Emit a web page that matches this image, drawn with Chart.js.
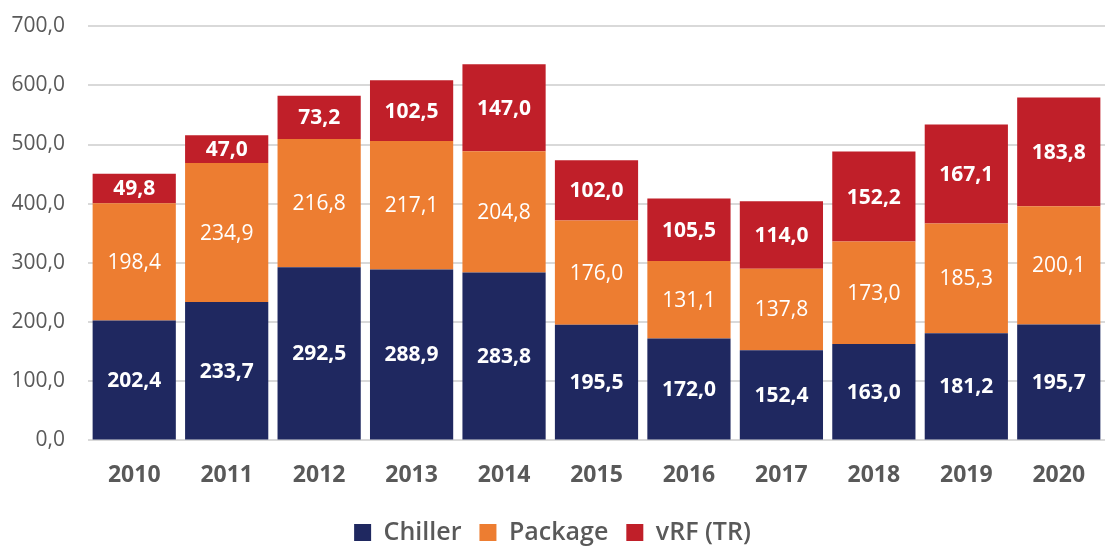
<!DOCTYPE html>
<html>
<head>
<meta charset="utf-8">
<script src="https://cdn.jsdelivr.net/npm/chart.js@4/dist/chart.umd.min.js"></script>
<style>
  html, body { margin: 0; padding: 0; background: #fff; }
  #wrap { width: 1111px; height: 547px; }
</style>
</head>
<body>
<div id="wrap"><canvas id="chart" width="1111" height="547"></canvas></div>
<script>
const years = ["2010","2011","2012","2013","2014","2015","2016","2017","2018","2019","2020"];
const chiller = [202.4, 233.7, 292.5, 288.9, 283.8, 195.5, 172.0, 152.4, 163.0, 181.2, 195.7];
const packageVals = [198.4, 234.9, 216.8, 217.1, 204.8, 176.0, 131.1, 137.8, 173.0, 185.3, 200.1];
const vrf = [49.8, 47.0, 73.2, 102.5, 147.0, 102.0, 105.5, 114.0, 152.2, 167.1, 183.8];

const fmt = v => v.toFixed(1).replace('.', ',');

// draws the value inside each bar segment
const barLabels = {
  id: 'barLabels',
  afterDatasetsDraw(chart) {
    const ctx = chart.ctx;
    ctx.save();
    ctx.textAlign = 'center';
    ctx.textBaseline = 'middle';
    ctx.fillStyle = '#ffffff';
    chart.data.datasets.forEach((ds, i) => {
      const meta = chart.getDatasetMeta(i);
      ctx.font = (ds.labelBold ? '700 ' : '400 ') + '21px "Open Sans"';
      meta.data.forEach((bar, j) => {
        const y = (bar.y + bar.base) / 2;
        ctx.fillText(fmt(ds.data[j]), bar.x, y + 1);
      });
    });
    ctx.restore();
  }
};

new Chart(document.getElementById('chart'), {
  type: 'bar',
  data: {
    labels: years,
    datasets: [
      {label: 'Chiller', data: chiller, backgroundColor: '#1f2860', labelBold: true},
      {label: 'Package', data: packageVals, backgroundColor: '#ed7d31', labelBold: false},
      {label: 'vRF (TR)', data: vrf, backgroundColor: '#c01f29', labelBold: true}
    ]
  },
  options: {
    responsive: false,
    animation: false,
    layout: {padding: {left: 0, right: 6, top: 2, bottom: -8}},
    datasets: {bar: {categoryPercentage: 0.9, barPercentage: 1.0}},
    plugins: {
      tooltip: {enabled: false},
      legend: {
        position: 'bottom',
        labels: {
          color: '#595959',
          font: {family: '"Open Sans"', size: 25, weight: '600'},
          boxWidth: 17,
          boxHeight: 17,
          padding: 18
        }
      }
    },
    scales: {
      x: {
        stacked: true,
        grid: {display: false},
        border: {display: false},
        ticks: {color: '#595959', font: {family: '"Open Sans"', size: 23, weight: '700'}, padding: 13}
      },
      y: {
        stacked: true,
        min: 0,
        max: 700,
        border: {display: false},
        grid: {color: '#d9d9d9', lineWidth: 2, drawTicks: false},
        afterFit: s => { s.width = 88; },
        ticks: {
          stepSize: 100,
          color: '#595959',
          padding: 23,
          font: {family: '"Open Sans"', size: 21, lineHeight: 0.3},
          callback: v => fmt(v)
        }
      }
    }
  },
  plugins: [barLabels]
});
</script>
</body>
</html>
